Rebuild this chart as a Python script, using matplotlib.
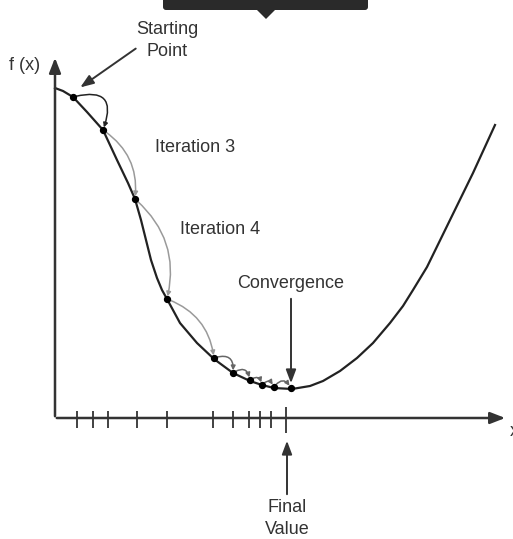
import matplotlib.pyplot as plt
from matplotlib.patches import FancyArrowPatch, Polygon, FancyBboxPatch

plt.rcParams['font.family'] = ['Liberation Sans', 'DejaVu Sans']

# objective curve f(x) (origin = axis corner)
curve_x = [0, 8, 18, 32, 48, 62, 73, 80, 86, 91, 96, 102, 107, 112, 125, 142, 159, 178,
           195, 207, 219, 237, 255, 268, 285, 302, 318, 335, 348, 358, 372, 395, 418, 440]
curve_y = [330, 327, 321, 306, 288, 258, 235, 219, 198, 178, 158, 140, 128, 119, 95, 75, 59, 45,
           37, 33, 30, 29, 32, 37, 47, 60, 75, 95, 112, 128, 151, 198, 245, 293]

# iteration points
iter_x = [18, 48, 80, 112, 159, 178, 195, 207, 219, 236]
iter_y = [321, 288, 219, 119, 60, 45, 38, 33, 31, 30]

# tick marks on the x axis
tick_x = [22, 38, 53, 82, 112, 158, 178, 194, 205, 216]
final_x = 231

fig = plt.figure(figsize=(5.13, 5.39), dpi=100)
ax = fig.add_axes([0, 0, 1, 1])
ax.set_xlim(-55, 458)
ax.set_ylim(-121, 418)
ax.axis('off')

# axes with arrow heads
ax.annotate('', xy=(0, 363), xytext=(0, -1),
            arrowprops=dict(arrowstyle='-|>,head_length=0.9,head_width=0.35', lw=1.8, color='#333333'))
ax.annotate('', xy=(453, 0), xytext=(-1, 0),
            arrowprops=dict(arrowstyle='-|>,head_length=0.9,head_width=0.35', lw=1.8, color='#333333'))
ax.text(455, -14, 'x', fontsize=13, ha='left', va='center', color='#333333')
ax.text(-30, 352, 'f (x)', fontsize=13, ha='center', va='center', color='#333333')

ax.vlines(tick_x, -10, 7, color='#333333', lw=1.3)
ax.vlines(final_x, -15, 11, color='#333333', lw=1.3)

# curve
ax.plot(curve_x, curve_y, color='#222222', lw=1.6, solid_joinstyle='round')
ax.scatter(iter_x, iter_y, s=18, color='black', zorder=5)

# iteration arcs
for i in range(len(iter_x) - 1):
    if i == 0:
        col, rad = '#222222', -0.95
    elif i < 4:
        col, rad = '#9a9a9a', -0.3
    else:
        col, rad = '#666666', -0.75
    arc = FancyArrowPatch((iter_x[i], iter_y[i]), (iter_x[i + 1], iter_y[i + 1]),
                          connectionstyle='arc3,rad=%s' % rad,
                          arrowstyle='-|>,head_length=2.5,head_width=1.3',
                          color=col, lw=1.1, shrinkA=2, shrinkB=2, zorder=3)
    ax.add_patch(arc)

# labels and pointers
ax.text(112, 388, 'Starting', fontsize=13, ha='center', va='center', color='#333333')
ax.text(112, 366, 'Point', fontsize=13, ha='center', va='center', color='#333333')
ax.annotate('', xy=(23, 329), xytext=(83, 371),
            arrowprops=dict(arrowstyle='-|>,head_length=0.8,head_width=0.3', lw=1.4, color='#333333'))

ax.text(140, 270, 'Iteration 3', fontsize=13, ha='center', va='center', color='#333333')
ax.text(165, 188, 'Iteration 4', fontsize=13, ha='center', va='center', color='#333333')

ax.text(236, 135, 'Convergence', fontsize=13, ha='center', va='center', color='#333333')
ax.annotate('', xy=(236, 32), xytext=(236, 122),
            arrowprops=dict(arrowstyle='-|>,head_length=0.8,head_width=0.3', lw=1.4, color='#333333'))

ax.text(232, -90, 'Final', fontsize=13, ha='center', va='center', color='#333333')
ax.text(232, -112, 'Value', fontsize=13, ha='center', va='center', color='#333333')
ax.annotate('', xy=(232, -20), xytext=(232, -79),
            arrowprops=dict(arrowstyle='-|>,head_length=0.8,head_width=0.3', lw=1.4, color='#333333'))

# dark bar at the top edge
ax.add_patch(FancyBboxPatch((108, 408), 205, 14, boxstyle='round,pad=0,rounding_size=3',
                            color='#2a2a2a', lw=0, clip_on=False))
ax.add_patch(Polygon([[201, 409], [221, 409], [211, 399]], closed=True, color='#2a2a2a', lw=0))

fig.savefig('out.png', dpi=100)
